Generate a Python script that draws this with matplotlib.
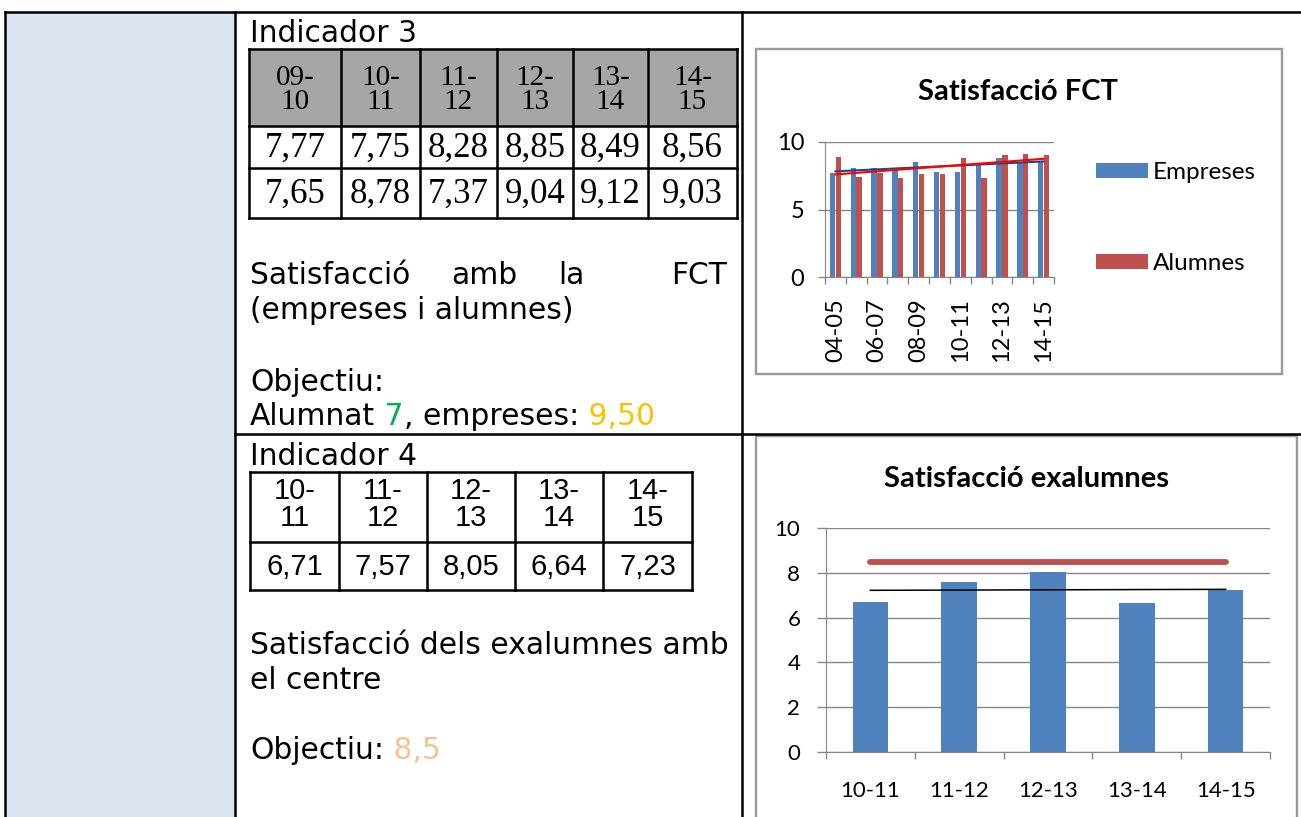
import numpy as np
import matplotlib
matplotlib.use("Agg")
import matplotlib.pyplot as plt
from matplotlib.patches import Rectangle

plt.rcParams["font.family"] = "Lato"

# --- data -------------------------------------------------------------
cursos_fct    = ["04-05","05-06","06-07","07-08","08-09","09-10",
                 "10-11","11-12","12-13","13-14","14-15"]
empreses_fct  = [7.67, 8.08, 8.10, 8.03, 8.55, 7.77, 7.75, 8.28, 8.85, 8.49, 8.56]
alumnes_fct   = [8.90, 7.42, 7.71, 7.30, 7.62, 7.65, 8.78, 7.37, 9.04, 9.12, 9.03]

cursos_exal   = ["10-11","11-12","12-13","13-14","14-15"]
exalumnes     = [6.71, 7.57, 8.05, 6.64, 7.23]
objectiu_exal = [8.5, 8.5, 8.5, 8.5, 8.5]

W, H = 1301, 817
BLUE, RED, GRID = "#4F81BD", "#C0504D", "#868686"
DOC = "DejaVu Sans"

def fmt(v):
    return f"{v:.2f}".replace(".", ",")

fig = plt.figure(figsize=(W / 100, H / 100), dpi=100)
bg = fig.add_axes([0, 0, 1, 1], zorder=0)
bg.set_xlim(0, W); bg.set_ylim(H, 0); bg.axis("off")

def px_axes(x0, y0, x1, y1):
    return fig.add_axes([x0 / W, 1 - y1 / H, (x1 - x0) / W, (y1 - y0) / H], zorder=2)

# --- document table ----------------------------------------------------
bg.add_patch(Rectangle((5, 12), 230, 810, fc="#DBE5F1", ec="none"))
lk = dict(color="black", lw=1.8, solid_capstyle="projecting")
bg.plot([5, W], [12, 12], **lk)
for x in (5, 235, 742):
    bg.plot([x, x], [12, H], **lk)
bg.plot([235, W], [434, 434], **lk)

# chart frames
bg.add_patch(Rectangle((756, 49), 526, 325, fc="white", ec="#9A9A9A", lw=1.7))
bg.add_patch(Rectangle((756, 436), 541, 420, fc="white", ec="#9A9A9A", lw=1.7))

# --- Indicador 3 --------------------------------------------------------
tk = dict(fontsize=21.4, family=DOC, va="baseline")
bg.text(250, 42, "Indicador 3", **tk)
cols3 = [249, 341, 420, 497, 573, 648, 737]
rows3 = [49, 126, 168, 218]
bg.add_patch(Rectangle((cols3[0], rows3[0]), cols3[-1] - cols3[0], rows3[1] - rows3[0],
                       fc="#A6A6A6", ec="none"))
for y in rows3:
    bg.plot([cols3[0], cols3[-1]], [y, y], color="black", lw=1.8)
for x in cols3:
    bg.plot([x, x], [rows3[0], rows3[-1]], color="black", lw=1.8)
for i, c in enumerate(cursos_fct[5:]):
    cx = (cols3[i] + cols3[i + 1]) / 2
    bg.text(cx, 78, c[:3], fontsize=21, family="Liberation Serif", ha="center", va="center")
    bg.text(cx, 102, c[3:], fontsize=21, family="Liberation Serif", ha="center", va="center")
    bg.text(cx, 148, fmt(empreses_fct[5 + i]), fontsize=25, family="Liberation Serif",
            ha="center", va="center")
    bg.text(cx, 194, fmt(alumnes_fct[5 + i]), fontsize=25, family="Liberation Serif",
            ha="center", va="center")

for w, x in zip(["Satisfacció", "amb", "la"], [250, 451, 558]):
    bg.text(x, 284, w, **tk)
bg.text(727, 284, "FCT", ha="right", **tk)
bg.text(250, 319, "(empreses i alumnes)", **tk)
bg.text(250, 391, "Objectiu:", **tk)
prev = bg.text(250, 425, "Alumnat", **tk)
for s, col in [(" 7", "#00B050"), (", empreses:", "black"), (" 9,50", "#FFC000")]:
    prev = bg.annotate(s, xy=(1, 0), xycoords=prev, va="bottom", ha="left",
                       fontsize=21.4, family=DOC, color=col)

# --- Indicador 4 --------------------------------------------------------
bg.text(250, 465, "Indicador 4", **tk)
cols4 = [250, 339, 427, 515, 603, 692]
rows4 = [472, 542, 590]
for y in rows4:
    bg.plot([cols4[0], cols4[-1]], [y, y], color="black", lw=1.8)
for x in cols4:
    bg.plot([x, x], [rows4[0], rows4[-1]], color="black", lw=1.8)
for i, c in enumerate(cursos_exal):
    cx = (cols4[i] + cols4[i + 1]) / 2
    bg.text(cx, 491, c[:3], fontsize=21, family="Liberation Sans", ha="center", va="center")
    bg.text(cx, 518, c[3:], fontsize=21, family="Liberation Sans", ha="center", va="center")
    bg.text(cx, 567, fmt(exalumnes[i]), fontsize=21, family="Liberation Sans",
            ha="center", va="center")

bg.text(250, 654, "Satisfacció dels exalumnes amb", **tk)
bg.text(250, 689, "el centre", **tk)
prev = bg.text(250, 759, "Objectiu:", **tk)
bg.annotate(" 8,5", xy=(1, 0), xycoords=prev, va="bottom", ha="left",
            fontsize=21.4, family=DOC, color="#FAC090")

# --- chart 1: Satisfacció FCT ----------------------------------------
bg.text(1018, 100, "Satisfacció FCT", fontsize=21, fontweight="bold", ha="center", va="baseline")
ax1 = px_axes(825, 142, 1054, 277)
ax1.patch.set_alpha(0)
x1 = np.arange(len(cursos_fct))
b1 = ax1.bar(x1 - 0.14, empreses_fct, 0.26, color=BLUE, zorder=2)
b2 = ax1.bar(x1 + 0.14, alumnes_fct, 0.26, color=RED, zorder=2)
for vals, col in [(empreses_fct, "#1F497D"), (alumnes_fct, "#FF0000")]:
    k, b = np.polyfit(x1, vals, 1)
    ax1.plot(x1[[0, -1]], k * x1[[0, -1]] + b, color=col, lw=1.5, zorder=3)
ax1.set_xlim(-0.5, len(cursos_fct) - 0.5)
ax1.set_ylim(0, 10)
ax1.set_yticks([0, 5, 10])
ax1.set_xticks(x1[::2])
ax1.set_xticklabels(cursos_fct[::2], rotation=90, fontsize=17)
ax1.set_xticks(np.arange(-0.5, len(cursos_fct), 1), minor=True)
ax1.tick_params(axis="x", which="major", length=0, pad=15)
ax1.tick_params(axis="x", which="minor", length=5, color=GRID, width=1)
ax1.tick_params(axis="y", length=5, color=GRID, width=1, labelsize=17, pad=10)
ax1.yaxis.grid(True, color=GRID, lw=1)
ax1.set_axisbelow(True)
for s in ("top", "right"):
    ax1.spines[s].set_visible(False)
for s in ("left", "bottom"):
    ax1.spines[s].set_color(GRID)
ax1.legend([b1, b2], ["Empreses", "Alumnes"], loc="center left",
           bbox_to_anchor=(1096 / W, 1 - 218 / H), bbox_transform=fig.transFigure,
           frameon=False, fontsize=17.5, handlelength=2.15, handleheight=0.58,
           handletextpad=0.2, labelspacing=2.9, borderpad=0, borderaxespad=0)

# --- chart 2: Satisfacció exalumnes ----------------------------------
bg.text(1026, 487, "Satisfacció exalumnes", fontsize=21, fontweight="bold",
        ha="center", va="baseline")
ax2 = px_axes(826, 528, 1270, 752)
ax2.patch.set_alpha(0)
x2 = np.arange(len(cursos_exal))
ax2.bar(x2, exalumnes, 0.4, color=BLUE, zorder=2)
ax2.plot(x2, objectiu_exal, color=RED, lw=4.2, solid_capstyle="round", zorder=3)
k, b = np.polyfit(x2, exalumnes, 1)
ax2.plot(x2[[0, -1]], k * x2[[0, -1]] + b, color="black", lw=1.1, zorder=4)
ax2.set_xlim(-0.5, len(cursos_exal) - 0.5)
ax2.set_ylim(0, 10)
ax2.set_yticks(range(0, 11, 2))
ax2.set_xticks(x2)
ax2.set_xticklabels(cursos_exal, fontsize=16)
ax2.set_xticks(np.arange(-0.5, len(cursos_exal), 1), minor=True)
ax2.tick_params(axis="x", which="major", length=0, pad=21)
ax2.tick_params(axis="x", which="minor", length=5, color=GRID, width=1)
ax2.tick_params(axis="y", length=6.5, color=GRID, width=1, labelsize=16, pad=12)
ax2.yaxis.grid(True, color=GRID, lw=1)
ax2.set_axisbelow(True)
for s in ("top", "right"):
    ax2.spines[s].set_visible(False)
for s in ("left", "bottom"):
    ax2.spines[s].set_color(GRID)

fig.savefig("out.png", dpi=100)
